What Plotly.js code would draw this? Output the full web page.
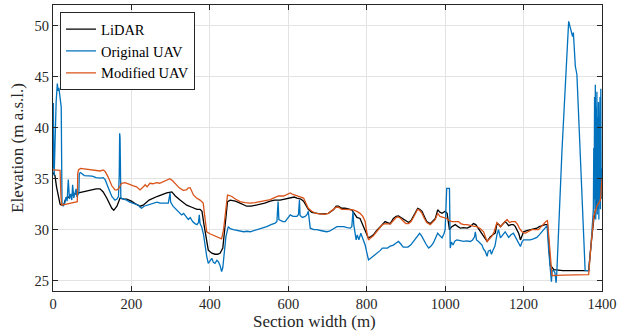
<!DOCTYPE html>
<html>
<head>
<meta charset="utf-8">
<script src="https://cdn.plot.ly/plotly-3.0.1.min.js"></script>
<style>html,body{margin:0;padding:0;background:#fff;}#chart{width:623px;height:332px;}</style>
</head>
<body>
<div id="chart"></div>
<script>
// ---- Data ----
const seriesNames = ["LiDAR", "Original UAV", "Modified UAV"];
const xTicks = [0, 200, 400, 600, 800, 1000, 1200, 1400];
const yTicks = [25, 30, 35, 40, 45, 50];

const lidarX = [0,5,9,14,18,22,28,31,43,65,90,110,120,128,137,145,150,155,163,171,180,188,200,212,222,230,245,265,280,290,303,312,324,335,341,354,367,375,380,385,390,396,405,413,420,426,433,439,445,452,465,477,494,505,520,540,554,565,579,592,605,615,622,632,639,645,651,660,670,681,692,702,715,722,728,736,745,755,762,768,775,783,792,798,804,810,817,825,834,840,847,853,860,868,875,881,887,894,900,907,913,919,925,930,935,941,947,953,962,968,975,981,987,992,1000,1005,1011,1017,1026,1033,1039,1047,1056,1064,1072,1078,1085,1092,1098,1107,1115,1123,1128,1132,1137,1141,1147,1153,1158,1162,1168,1174,1179,1183,1188,1192,1196,1200,1208,1217,1225,1234,1240,1247,1255,1261,1265,1268,1277,1300,1330,1355,1366,1372,1379,1387,1393,1400];
const lidarY = [35.6,35.3,34.2,33.1,32.5,32.4,32.5,32.9,33.3,33.6,33.8,34.0,34.0,33.7,33.1,32.5,32.1,31.9,32.3,33.1,33.0,33.0,32.8,32.5,32.3,32.4,32.9,33.25,33.5,33.6,33.7,33.3,32.9,32.6,32.4,32.2,32.0,32.0,31.8,30.5,29.2,28.0,27.7,27.6,27.6,27.7,28.2,30.3,32.75,32.9,32.8,32.6,32.3,32.3,32.4,32.6,32.8,32.9,32.9,33.0,33.1,33.2,33.1,33.0,32.8,32.4,32.0,31.7,31.6,31.55,31.55,31.6,31.95,32.3,32.3,32.1,32.1,32.0,31.95,31.6,31.2,31.1,30.3,29.6,29.2,29.3,29.5,29.9,30.3,30.6,30.8,30.7,30.6,31.1,31.3,31.35,31.2,31.0,30.8,30.7,30.9,31.3,31.8,32.1,32.0,31.8,31.3,30.8,30.6,30.8,31.1,31.95,31.7,31.6,31.8,31.6,30.0,30.3,30.5,30.3,30.15,30.2,30.15,30.3,30.6,30.5,30.1,29.6,29.35,28.85,29.3,29.55,29.7,30.6,30.5,30.3,30.6,30.8,30.6,30.4,30.5,30.5,30.3,30.0,29.6,29.0,29.5,29.8,29.9,30.0,30.1,30.15,30.3,30.4,30.5,30.5,28.5,26.55,26.1,26.0,26.0,26.0,26.0,28.5,31.0,32.9,33.8,34.5];

const origX = [0,1,2,3,5,8,11,13,15,18,21,22,23,26,30,33,36,39,42,45,48,50,53,56,59,61,64,66,67,70,80,90,100,110,120,128,133,141,150,158,163,167,169,170,171,172,173,180,188,196,205,212,218,222,226,232,239,247,256,265,273,282,290,294,298.5,300,306,315.6,320,328,333,338,345,350,356,362,367,371,373,375,379,384,388,392,396,400,405,409,413,418,422,426,430,433,436,441,447,452,460,470,480,486,495,503,512,520,532,545,556,566.5,571,574,576,580,586,592,600,605,612,622,626,628.5,630,636,643,648,651,653,656,665,673,685,698,705,712,724,733,741,750,758,762,765,767,770,773,776,780,785,790,796,800,804.6,810,817,825,834,840,847,853,860,868,875,881,887,893,898,905,912,918,924,930,935,940,945,951,958,964,970,976,981,987,992,997,1000,1004,1011,1013,1016,1020,1025,1030,1038,1047,1055,1064,1070,1075,1077,1080,1085,1090,1094,1098,1102,1107,1110,1115,1118,1122,1127,1132,1136,1141,1147,1153,1158,1162,1168,1174,1179,1183,1188,1192,1196,1200,1208,1217,1225,1234,1240,1247,1255,1260,1264,1267,1271,1273,1277,1280,1283,1285,1298,1315,1317,1319,1321,1323,1325,1327,1329,1332,1336,1340.5,1347,1353,1357,1362,1366,1372,1378,1379,1380,1381,1382,1383,1384,1385,1386,1387,1388,1389,1390,1391,1392,1393,1394,1395,1396,1397,1398,1399,1400];
const origY = [36.0,42.4,37.0,35.3,38.5,42.5,44.3,43.6,43.9,42.6,42.0,37.0,32.5,32.3,32.6,33.2,32.8,34.9,33.0,33.5,32.9,34.4,33.1,33.6,34.0,33.2,33.4,33.6,35.5,35.6,35.3,35.3,35.25,35.1,35.05,35.1,34.9,34.1,33.25,32.9,33.0,33.25,35.5,39.45,39.0,36.0,33.1,33.0,32.9,32.7,32.6,32.5,32.4,32.2,32.1,32.3,32.4,32.5,32.6,32.7,32.6,32.6,32.6,32.6,33.6,32.7,32.3,31.95,31.7,31.45,31.6,31.3,31.0,31.2,30.8,30.6,30.5,30.7,31.45,30.6,30.3,29.5,28.35,27.4,26.7,26.9,27.2,26.8,26.7,27.0,26.85,26.5,25.9,26.3,27.4,29.35,30.3,30.1,30.0,29.9,29.85,29.8,29.85,29.8,29.9,30.0,30.1,30.3,30.5,30.65,30.8,32.75,31.0,30.9,30.8,30.8,31.2,31.45,31.3,31.3,31.5,32.9,31.4,31.2,31.3,31.5,31.8,30.8,30.15,30.0,30.0,29.9,29.8,29.85,30.0,30.3,30.3,30.3,30.2,30.15,30.3,31.8,30.5,29.6,29.0,29.5,29.0,29.65,29.2,28.5,27.8,27.05,27.2,27.4,27.7,27.95,28.2,28.2,28.2,28.4,28.5,28.7,28.85,28.6,28.3,28.3,28.3,28.5,28.8,29.0,29.4,29.65,29.4,29.0,28.6,28.2,28.4,28.7,29.2,29.65,29.4,29.2,29.6,30.0,34.05,34.05,28.2,28.8,28.5,28.9,29.0,28.9,28.85,28.9,28.85,29.0,29.3,29.8,29.0,28.85,28.7,28.5,28.1,27.9,27.4,27.9,28.0,27.6,28.0,28.4,29.5,30.0,29.2,29.5,29.8,29.5,29.25,29.5,29.65,29.3,29.0,28.7,28.35,28.8,29.0,29.0,29.0,29.1,29.25,29.5,29.8,30.1,30.4,28.0,26.2,24.9,26.0,26.0,25.8,24.8,26.0,37.8,50.4,50.1,49.97,49.4,49.2,48.9,49.3,47.5,46.0,45.2,40.75,34.9,29.5,26.0,26.0,26.0,28.5,32.0,38.0,33.0,43.0,32.0,44.2,31.0,42.0,33.0,43.5,31.5,41.0,32.0,42.5,31.0,40.0,33.0,43.0,32.0,43.8,33.0,36.0,34.6];

const modX = [0,10,18,20,22,40,62,63,65,70,80,90,100,110,120,128,133,140,145,150,158,163,167,172,175,184,190,196,205,213,218,222,228,235,240,247,255,264,272,281,290,294,298,305,315,322,332,340,345,350,358,366,375,383,388,392,400,415,430,435,439,445,450,456,465,477,490,503,515,528,541,554,565,575,588,600,605,612,622,630,639,645,651,660,670,681,692,702,715,722,728,736,745,755,766,775,783,790,796,800,804.6,810,817,825,834,840,847,853,860,868,875,881,887,894,900,907,913,919,925,930,935,941,947,953,962,968,975,981,987,995,1004,1010,1017,1026,1034,1040,1047,1056,1064,1072,1081,1090,1098,1103,1107,1113,1119,1125,1132,1137,1141,1148,1153,1158,1164,1170,1179,1185,1190,1196,1204,1212,1221,1230,1238,1245,1251,1257,1261,1266.5,1272.5,1300,1330,1366,1372,1379,1387,1396,1400];
const modY = [35.85,35.85,35.8,33.5,32.4,32.55,32.75,35.5,35.85,36.0,35.95,35.85,35.85,35.8,35.75,35.85,35.7,35.2,34.7,34.3,33.9,33.9,34.0,34.4,34.55,34.6,34.5,34.4,34.3,34.2,34.0,33.9,34.1,34.4,34.2,34.55,34.5,34.6,34.55,34.7,34.8,34.9,35.0,34.8,34.4,34.1,33.85,33.9,34.1,34.1,33.4,33.1,32.9,32.6,31.0,29.8,29.6,29.35,29.1,30.0,31.3,33.4,33.35,33.25,33.0,32.75,32.65,32.6,32.65,32.75,32.9,32.95,33.15,33.3,33.3,33.5,33.6,33.45,33.3,33.2,33.1,32.6,32.1,31.8,31.6,31.55,31.5,31.6,31.95,32.2,32.2,32.0,32.0,32.0,31.95,31.8,31.6,31.3,30.8,29.8,29.0,29.2,29.4,29.8,30.2,30.5,30.6,30.55,30.55,30.9,31.2,31.25,31.1,30.8,30.6,30.6,30.8,31.2,31.7,32.0,31.9,31.6,31.1,30.7,30.5,30.7,31.0,31.6,31.3,31.2,31.1,30.9,30.8,30.8,30.8,30.6,30.5,30.5,30.4,30.35,30.3,30.1,29.8,29.3,28.85,29.1,29.35,29.8,30.7,30.5,30.3,30.6,30.8,31.0,30.7,30.8,30.8,30.5,30.1,29.8,29.65,29.8,30.0,30.0,30.0,30.3,30.6,30.8,30.9,28.0,25.5,25.55,25.6,25.6,28.5,31.3,32.3,32.9,35.0];

// ---- Plot ----
const FONT = 'Liberation Serif, Times New Roman, serif';
const AX = '#262626';
const traces = [
  {x: lidarX, y: lidarY, name: seriesNames[0], type: 'scatter', mode: 'lines', line: {color: '#000000', width: 1.3}},
  {x: origX, y: origY, name: seriesNames[1], type: 'scatter', mode: 'lines', line: {color: '#0072BD', width: 1.3}},
  {x: modX, y: modY, name: seriesNames[2], type: 'scatter', mode: 'lines', line: {color: '#D95319', width: 1.3}}
];
const axisCommon = {
  showline: true, linecolor: AX, linewidth: 1, mirror: 'ticks',
  ticks: 'inside', ticklen: 5, tickcolor: AX, tickwidth: 1,
  showgrid: true, gridcolor: '#e3e3e3', gridwidth: 1, zeroline: false,
  tickfont: {family: FONT, size: 14.5, color: AX}
};
const layout = {
  width: 623, height: 332,
  font: {family: FONT, color: AX},
  margin: {l: 53, r: 21, t: 5, b: 41},
  paper_bgcolor: '#ffffff', plot_bgcolor: '#ffffff',
  showlegend: true,
  legend: {
    x: 0.0128, y: 0.975, xanchor: 'left', yanchor: 'top',
    bgcolor: '#ffffff', bordercolor: AX, borderwidth: 1,
    font: {family: FONT, size: 14.5, color: '#000'},
    tracegroupgap: 0, entrywidth: 150, entrywidthmode: 'pixels'
  },
  xaxis: Object.assign({}, axisCommon, {
    range: [0, 1400], tickmode: 'array', tickvals: xTicks, ticktext: xTicks.map(String)
  }),
  yaxis: Object.assign({}, axisCommon, {
    range: [24, 52], tickmode: 'array', tickvals: yTicks, ticktext: yTicks.map(String),
    title: {text: 'Elevation (m a.s.l.)', font: {family: FONT, size: 17, color: AX}, standoff: 6}
  }),
  annotations: [{
    text: 'Section width (m)', xref: 'paper', yref: 'paper', x: 0.477, y: 0,
    xanchor: 'center', yanchor: 'top', yshift: -19, showarrow: false,
    font: {family: FONT, size: 17, color: AX}
  }]
};
Plotly.newPlot('chart', traces, layout, {displayModeBar: false, staticPlot: true});
</script>
</body>
</html>
